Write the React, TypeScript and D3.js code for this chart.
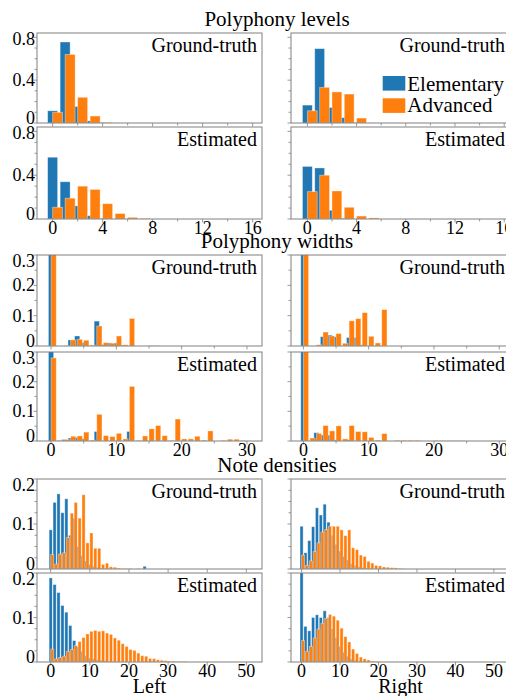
import React from "react";
import * as d3 from "d3";

// ---- data ----
const seriesNames = ["Elementary", "Advanced"];
const colors = ["#1f77b4", "#ff7f0e"];

// Polyphony levels
const levelsGtLeftElem = [0.114, 0.756, 0.154, 0.02, 0.003];
const levelsGtLeftAdv = [0.1, 0.64, 0.24, 0.065, 0.005];
const levelsEstLeftElem = [0.564, 0.34, 0.12, 0.03, 0.005];
const levelsEstLeftAdv = [0.107, 0.19, 0.3, 0.27, 0.14, 0.05, 0.015, 0.005];
const levelsGtRightElem = [0.167, 0.694, 0.145, 0.05, 0.003];
const levelsGtRightAdv = [0.114, 0.333, 0.29, 0.27, 0.046];
const levelsEstRightElem = [0.48, 0.466, 0.08, 0.005];
const levelsEstRightAdv = [0.25, 0.4, 0.256, 0.107, 0.027, 0.01];

// Polyphony widths
const widthsGtLeftElem = [0.5, 0, 0, 0.02, 0.033, 0.012, 0, 0.082, 0.005, 0.01, 0.01, 0.003];
const widthsGtLeftAdv = [0.5, 0, 0.001, 0.02, 0.022, 0.019, 0.003, 0.066, 0.011, 0.009, 0.033, 0.004, 0.091, 0, 0, 0.001, 0.001];
const widthsEstLeftElem = [0.5, 0, 0.005, 0.01, 0.012, 0.008, 0, 0.032, 0, 0, 0, 0, 0.032];
const widthsEstLeftAdv = [0.28, 0.002, 0.005, 0.016, 0.017, 0.03, 0.003, 0.09, 0.018, 0.015, 0.026, 0.007, 0.184, 0.002, 0.017, 0.041, 0.052, 0.018, 0.002, 0.074, 0.007, 0.007, 0.016, 0.003, 0.034, 0, 0.002, 0.006, 0.006, 0.001];
const widthsGtRightElem = [0.5, 0, 0, 0.031, 0.036, 0.03, 0, 0.028, 0.028, 0.004];
const widthsGtRightAdv = [0.5, 0, 0.004, 0.046, 0.033, 0.041, 0.009, 0.083, 0.09, 0.11, 0.032, 0.01, 0.12];
const widthsEstRightElem = [0.5, 0, 0.028, 0.02, 0.02, 0.004, 0, 0.004];
const widthsEstRightAdv = [0.5, 0.01, 0.025, 0.052, 0.034, 0.051, 0.007, 0.052, 0.032, 0.031, 0.012, 0.003, 0.025, 0, 0.002, 0.002, 0.002, 0.002, 0, 0, 0.001, 0.001, 0.001, 0.001, 0.001];

// Note densities
const densGtLeftElem = [0.087, 0.148, 0.167, 0.125, 0.156, 0.075, 0.113, 0.05, 0.03, 0.018, 0.01, 0.006, 0.004, 0.002, 0.001, 0, 0, 0, 0, 0, 0, 0, 0, 0, 0.006];
const densGtLeftAdv = [0.032, 0.011, 0.033, 0.036, 0.07, 0.124, 0.148, 0.113, 0.165, 0.058, 0.08, 0.046, 0.046, 0.01, 0.013, 0.005, 0.004, 0.002, 0.001, 0.001, 0.001, 0, 0.001];
const densEstLeftElem = [0.189, 0.174, 0.156, 0.127, 0.112, 0.082, 0.048, 0.034, 0.024, 0.014, 0.009, 0.007, 0.005, 0.004, 0.003, 0.002, 0.001];
const densEstLeftAdv = [0.029, 0.007, 0.01, 0.013, 0.024, 0.028, 0.037, 0.046, 0.055, 0.063, 0.069, 0.071, 0.069, 0.07, 0.065, 0.062, 0.054, 0.049, 0.041, 0.035, 0.028, 0.026, 0.02, 0.014, 0.013, 0.008, 0.0075, 0.005, 0.004, 0.003, 0.002, 0.002, 0.001, 0.001, 0.001];
const densGtRightElem = [0.095, 0.036, 0.063, 0.094, 0.136, 0.12, 0.144, 0.104, 0.075, 0.055, 0.04, 0.028, 0.02, 0.012, 0.008, 0.005, 0.003, 0.002, 0.001];
const densGtRightAdv = [0.031, 0.008, 0.018, 0.039, 0.058, 0.082, 0.088, 0.095, 0.095, 0.095, 0.087, 0.074, 0.087, 0.047, 0.043, 0.031, 0.028, 0.017, 0.013, 0.008, 0.007, 0.0045, 0.004, 0.003, 0.0025, 0.0015, 0.001];
const densEstRightElem = [0.25, 0.08, 0.07, 0.1, 0.106, 0.1, 0.115, 0.1, 0.075, 0.055, 0.035, 0.022, 0.013, 0.007, 0.004, 0.002, 0.001];
const densEstRightAdv = [0.048, 0.024, 0.035, 0.054, 0.074, 0.087, 0.098, 0.107, 0.103, 0.094, 0.076, 0.057, 0.045, 0.029, 0.019, 0.011, 0.007, 0.0045, 0.002, 0.0015, 0.001];

const rowLabels = ["Ground-truth", "Estimated"];
const columnLabels = ["Left", "Right"];

const sections = [
  {
    title: "Polyphony levels", titleY: 26,
    rows: [[33, 123], [127, 219]],
    yMax: 0.84, yStep: 0.1, yLabels: [0, 0.4, 0.8],
    xDom: [[-1.25, 16.75], [-1.33, 16.47]], xStep: 2, xLabels: [0, 4, 8, 12, 16],
    data: [
      [[levelsGtLeftElem, levelsGtLeftAdv], [levelsGtRightElem, levelsGtRightAdv]],
      [[levelsEstLeftElem, levelsEstLeftAdv], [levelsEstRightElem, levelsEstRightAdv]],
    ],
  },
  {
    title: "Polyphony widths", titleY: 248,
    rows: [[255, 346], [352, 441]],
    yMax: 0.3, yStep: 0.05, yLabels: [0, 0.1, 0.2, 0.3],
    xDom: [[-2.15, 32.3], [-1.9, 31.64]], xStep: 5, xLabels: [0, 10, 20, 30],
    data: [
      [[widthsGtLeftElem, widthsGtLeftAdv], [widthsGtRightElem, widthsGtRightAdv]],
      [[widthsEstLeftElem, widthsEstLeftAdv], [widthsEstRightElem, widthsEstRightAdv]],
    ],
  },
  {
    title: "Note densities", titleY: 472,
    rows: [[479, 569], [573, 662]],
    yMax: 0.2, yStep: 0.025, yLabels: [0, 0.1, 0.2],
    xDom: [[-3.5, 54], [-2.75, 54.19]], xStep: 10, xLabels: [0, 10, 20, 30, 40, 50],
    data: [
      [[densGtLeftElem, densGtLeftAdv], [densGtRightElem, densGtRightAdv]],
      [[densEstLeftElem, densEstLeftAdv], [densEstRightElem, densEstRightAdv]],
    ],
  },
];

const cols = [[37, 262], [291, 510]];
const font = "Liberation Serif, DejaVu Serif, serif";
const frame = "#808080";

function Panel({ sec, si, ri, ci }) {
  const [top, bottom] = sec.rows[ri];
  const [left, right] = cols[ci];
  const x = d3.scaleLinear().domain(sec.xDom[ci]).range([left, right]);
  const y = d3.scaleLinear().domain([0, sec.yMax]).range([bottom, top]);
  const clipId = `clip-${si}-${ri}-${ci}`;
  const nY = Math.floor(sec.yMax / sec.yStep + 1e-6);
  const yTicks = d3.range(nY + 1).map((i) => +(i * sec.yStep).toFixed(4));
  const xd = sec.xDom[ci];
  const xTicks = d3.range(Math.ceil(xd[0] / sec.xStep), Math.floor(xd[1] / sec.xStep) + 1).map((i) => i * sec.xStep);
  const series = sec.data[ri][ci];
  const isBottom = ri === 1;
  return (
    <g>
      <clipPath id={clipId}>
        <rect x={left} y={top} width={right - left} height={bottom - top} />
      </clipPath>
      <g clipPath={`url(#${clipId})`}>
        {series.map((vals, k) => (
          <g key={k}>
            {vals.map((v, i) =>
              v > 0 ? (
                <rect
                  key={i}
                  x={x(i - 0.4 + k * 0.4)}
                  width={x(0.8) - x(0)}
                  y={y(v)}
                  height={bottom - y(v)}
                  fill={colors[k]}
                  stroke="#fff"
                  strokeOpacity={0.45}
                  strokeWidth={0.8}
                />
              ) : null
            )}
          </g>
        ))}
      </g>
      <rect x={left} y={top} width={right - left} height={bottom - top} fill="none" stroke={frame} strokeWidth={1} />
      {yTicks.map((t) => {
        const major = sec.yLabels.some((l) => Math.abs(l - t) < 1e-6);
        return <line key={t} x1={left} x2={left - (major ? 3.5 : 2.5)} y1={y(t)} y2={y(t)} stroke={frame} strokeWidth={0.8} />;
      })}
      {xTicks.map((t) => {
        const major = sec.xLabels.includes(t);
        return <line key={t} x1={x(t)} x2={x(t)} y1={bottom} y2={bottom + (major ? 3.5 : 2.5)} stroke={frame} strokeWidth={0.8} />;
      })}
      {ci === 0 &&
        sec.yLabels.map((t) => {
          const c = Math.min(Math.max(y(t), top + 6), bottom - 5);
          return (
            <text key={t} x={left - 2} y={c + 6} textAnchor="end" fontSize={18} style={{ fontFamily: font }}>
              {t === 0 ? "0" : t.toFixed(1)}
            </text>
          );
        })}
      {isBottom &&
        sec.xLabels.map((t) => (
          <text key={t} x={x(t)} y={bottom + 15} textAnchor="middle" fontSize={18} style={{ fontFamily: font }}>
            {t}
          </text>
        ))}
      <text x={right - 5} y={top + 19} textAnchor="end" fontSize={20} style={{ fontFamily: font }}>
        {rowLabels[ri]}
      </text>
    </g>
  );
}

export default function App() {
  const legendX = 382.7;
  return (
    <svg width={506} height={696} style={{ position: "absolute", left: 0, top: 0, background: "#fff" }}>
      {sections.map((sec, si) => (
        <g key={si}>
          <text x={277} y={sec.titleY} textAnchor="middle" fontSize={21} style={{ fontFamily: font }}>
            {sec.title}
          </text>
          {[0, 1].map((ri) => [0, 1].map((ci) => <Panel key={`${ri}-${ci}`} sec={sec} si={si} ri={ri} ci={ci} />))}
        </g>
      ))}
      {seriesNames.map((name, k) => (
        <g key={name}>
          <rect x={legendX} y={76 + k * 22.3} width={22.6} height={14.6} fill={colors[k]} />
          <text x={legendX + 24.6} y={90.7 + k * 21.5} fontSize={21} style={{ fontFamily: font }}>
            {name}
          </text>
        </g>
      ))}
      {columnLabels.map((lab, ci) => (
        <text key={lab} x={(cols[ci][0] + cols[ci][1]) / 2} y={693} textAnchor="middle" fontSize={20} style={{ fontFamily: font }}>
          {lab}
        </text>
      ))}
    </svg>
  );
}
